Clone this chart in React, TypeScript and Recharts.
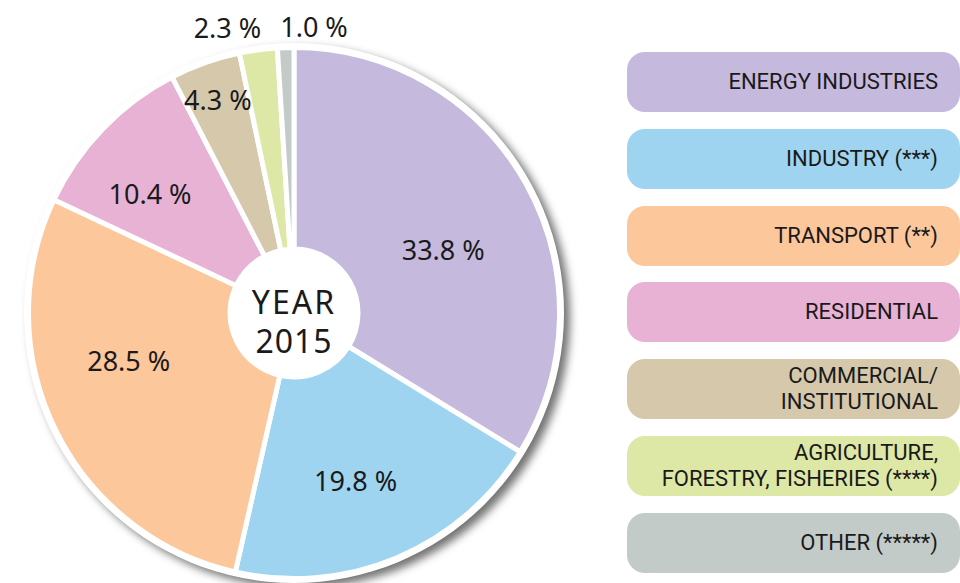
import React from 'react';
import { PieChart, Pie, Cell, Legend, Label } from 'recharts';

const CATEGORIES = [
  'ENERGY INDUSTRIES',
  'INDUSTRY (***)',
  'TRANSPORT (**)',
  'RESIDENTIAL',
  'COMMERCIAL/\nINSTITUTIONAL',
  'AGRICULTURE,\nFORESTRY, FISHERIES (****)',
  'OTHER (*****)',
];
const SHARES = [33.8, 19.8, 28.5, 10.4, 4.3, 2.3, 1.0];
const SHARE_LABELS = ['33.8 %', '19.8 %', '28.5 %', '10.4 %', '4.3 %', '2.3 %', '1.0 %'];
const YEAR_LINES = ['YEAR', '2015'];

const COLORS = ['#c5b9dd', '#9ed4f0', '#fcc79b', '#e8b2d4', '#d5c8ab', '#dde8a6', '#c3cbc9'];
// label placement (radius px, angle nudge deg) — layout only
const LABEL_R = [162, 178, 172, 187, 227, 293, 287];
const LABEL_NUDGE = [-6.3, -2.6, -9.9, 4.3, 0, 5.4, -5.8];

const data = CATEGORIES.map((name, i) => ({ name, value: SHARES[i], label: SHARE_LABELS[i] }));

const CX = 294;
const CY = 313;
const RAD = Math.PI / 180;
const FONT = "'Noto Sans', 'Open Sans', sans-serif";

const renderLabel = (props: any) => {
  const { cx, cy, midAngle, index } = props;
  const a = (midAngle + LABEL_NUDGE[index]) * RAD;
  const r = LABEL_R[index];
  const x = cx + r * Math.cos(-a);
  const y = cy + r * Math.sin(-a);
  return (
    <text
      x={x}
      y={y}
      textAnchor="middle"
      dominantBaseline="central"
      fontFamily={FONT}
      fontSize={27}
      fill="#1a1a1a"
    >
      {SHARE_LABELS[index]}
    </text>
  );
};

const renderCenter = (props: any) => {
  const vb = props.viewBox || {};
  const cx = vb.cx ?? CX;
  const cy = vb.cy ?? CY;
  return (
    <g>
      <text x={cx} y={cy - 12} textAnchor="middle" dominantBaseline="central" fontFamily={FONT} fontSize={32} letterSpacing={2} fill="#1a1a1a">
        {YEAR_LINES[0]}
      </text>
      <text x={cx} y={cy + 27} textAnchor="middle" dominantBaseline="central" fontFamily={FONT} fontSize={32} letterSpacing={1} fill="#1a1a1a">
        {YEAR_LINES[1]}
      </text>
    </g>
  );
};

const renderLegend = () => {
  return (
    <div style={{ width: 333 }}>
      {CATEGORIES.map((name, i) => (
        <div
          key={i}
          style={{
            height: 60,
            marginBottom: 16.8,
            borderRadius: 18,
            background: COLORS[i],
            display: 'flex',
            alignItems: 'center',
            justifyContent: 'flex-end',
            paddingRight: 22,
            boxSizing: 'border-box',
            fontFamily: "Roboto, 'Noto Sans', sans-serif",
            fontSize: 22,
            lineHeight: '26px',
            color: '#1a1a1a',
            textAlign: 'right',
            whiteSpace: 'pre',
          }}
        >
          {name}
        </div>
      ))}
    </div>
  );
};

export default function App() {
  return (
    <div style={{ position: 'absolute', left: 0, top: 0, width: 960, height: 583, background: '#fff', overflow: 'hidden' }}>
      <div
        style={{
          position: 'absolute',
          left: CX - 270,
          top: CY - 270,
          width: 540,
          height: 540,
          borderRadius: '50%',
          background: '#fff',
          boxShadow: '6px 5px 9px rgba(0,0,0,0.55)',
        }}
      />
      <div style={{ position: 'absolute', left: 0, top: 0 }}>
        <PieChart width={960} height={583} margin={{ top: 0, right: 0, bottom: 0, left: 0 }}>
          <Pie
            data={data}
            dataKey="value"
            nameKey="name"
            cx={CX}
            cy={CY}
            innerRadius={64}
            outerRadius={265.5}
            startAngle={90}
            endAngle={-270}
            stroke="#ffffff"
            strokeWidth={5}
            label={renderLabel}
            labelLine={false}
            isAnimationActive={false}
          >
            {data.map((d, i) => (
              <Cell key={d.name} fill={COLORS[i]} />
            ))}
            <Label position="center" content={renderCenter} />
          </Pie>
          <Legend
            layout="vertical"
            align="right"
            verticalAlign="top"
            content={renderLegend}
            wrapperStyle={{ left: 627, top: 52, width: 333 }}
          />
        </PieChart>
      </div>
    </div>
  );
}
